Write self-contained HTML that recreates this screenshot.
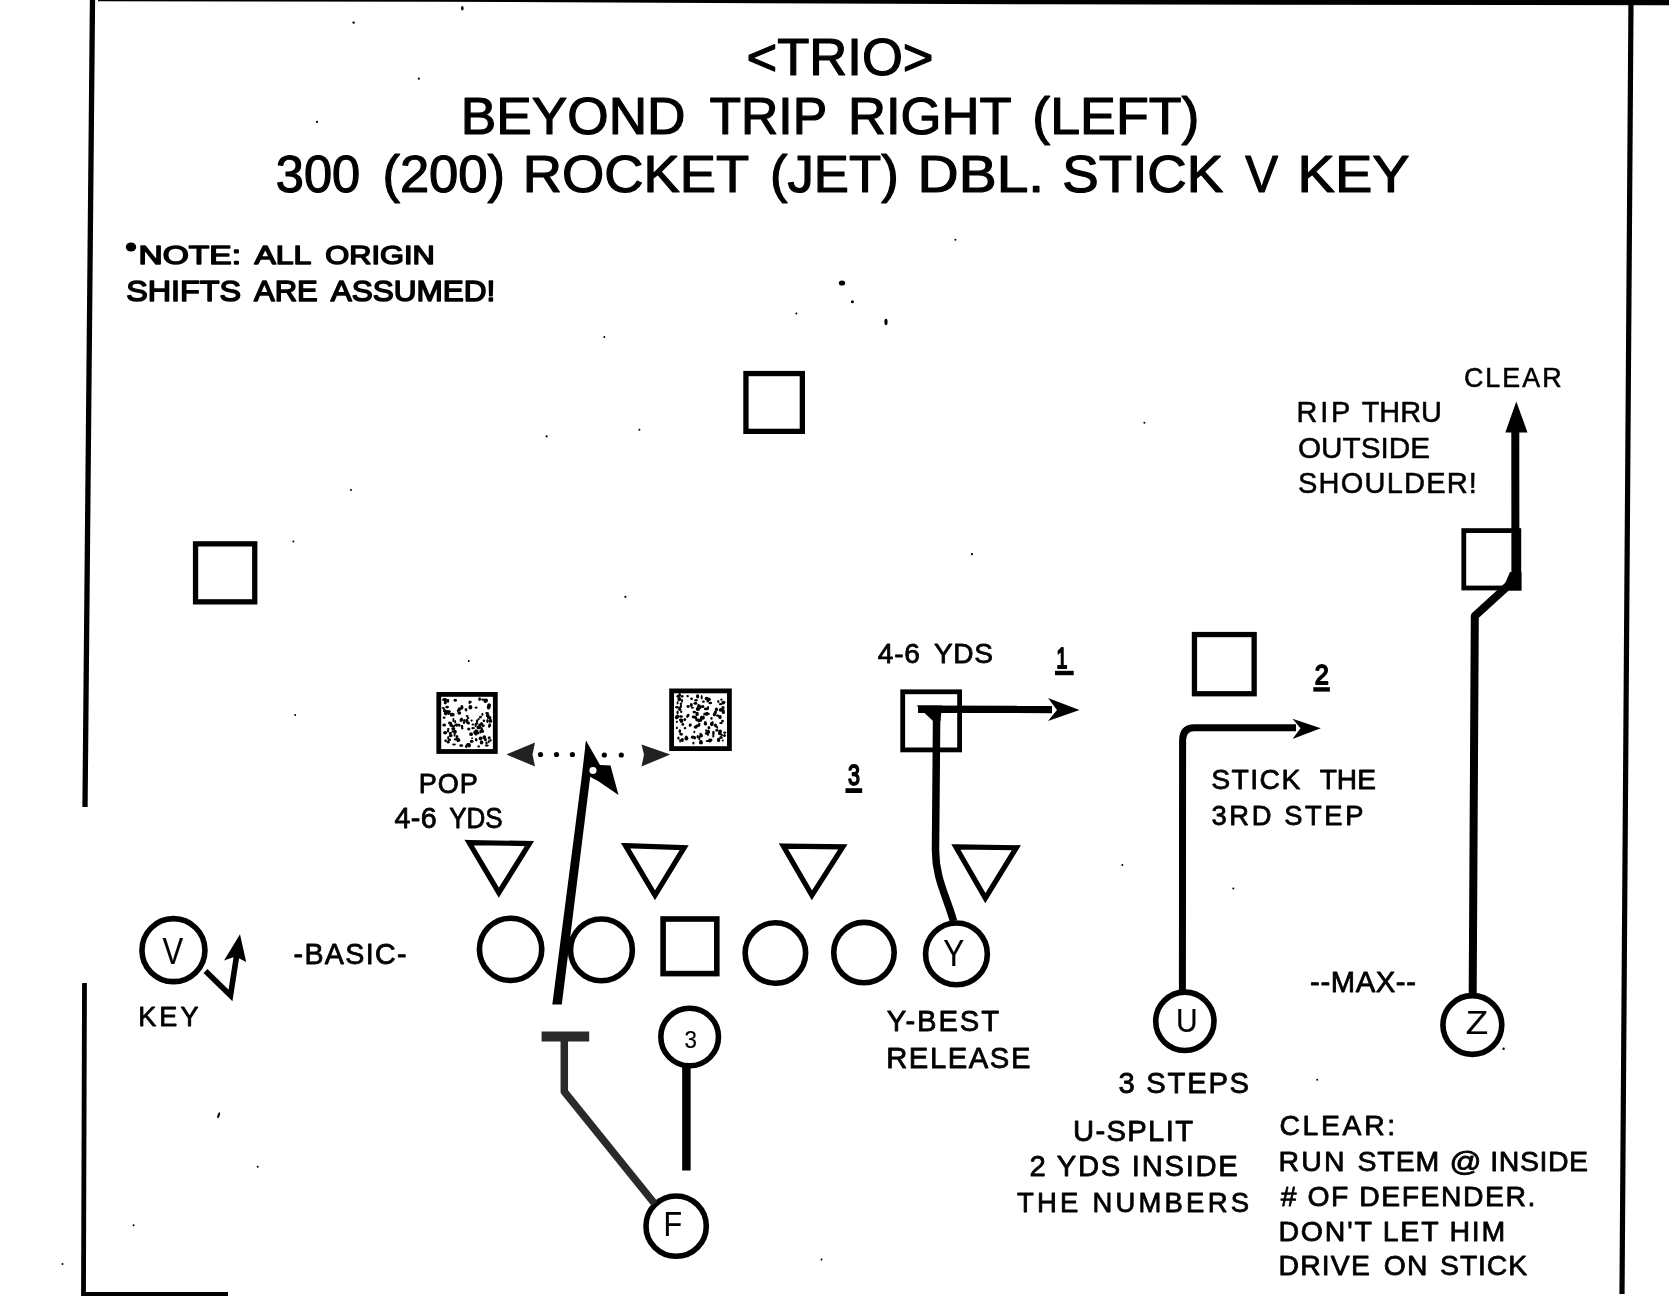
<!DOCTYPE html>
<html><head><meta charset="utf-8"><title>TRIO - Beyond Trip Right</title>
<style>
html,body{margin:0;padding:0;background:#fff;}
body{width:1669px;height:1296px;overflow:hidden;}
svg{display:block;filter:grayscale(100%);}
text{font-family:"Liberation Sans",sans-serif;fill:#000;stroke:#000;stroke-linejoin:round;}
</style></head>
<body>
<svg width="1669" height="1296" viewBox="0 0 1669 1296">
<rect x="0" y="0" width="1669" height="1296" fill="#fff"/>
<g fill="none" stroke="#000" stroke-linecap="butt">
<polygon points="98,0 1669,0 1669,5.2 1040,4.3 440,1.8 98,1.3" fill="#000" stroke="none"/>
<line x1="92.5" y1="-2" x2="85" y2="807" stroke-width="5.3"/>
<line x1="84.5" y1="983" x2="83.5" y2="1296" stroke-width="4.8"/>
<line x1="82" y1="1294" x2="228" y2="1294" stroke-width="4"/>
<line x1="1631" y1="0" x2="1622" y2="1294" stroke-width="5.2"/>
<rect x="745.95" y="373.55" width="56.40" height="57.80" stroke-width="5.3" fill="none"/>
<rect x="195.55" y="543.85" width="59.20" height="58.00" stroke-width="5.3" fill="none"/>
<rect x="1463.80" y="530.60" width="55.00" height="57.40" stroke-width="4.8" fill="none"/>
<rect x="1194.45" y="634.55" width="59.70" height="59.20" stroke-width="5.3" fill="none"/>
<rect x="902.70" y="691.80" width="56.90" height="58.10" stroke-width="4.8" fill="none"/>
<rect x="663.10" y="919.00" width="53.70" height="54.60" stroke-width="5.6" fill="none"/>
<rect x="438.80" y="694.40" width="56.50" height="57.10" stroke-width="4.8" fill="#fff"/>
<rect x="671.60" y="690.90" width="57.80" height="57.70" stroke-width="4.8" fill="#fff"/>
<polygon points="469.07,842.53 529.45,843.59 498.83,892.68" stroke-width="5.2" stroke-linejoin="miter"/>
<polygon points="625.54,845.69 684.14,847.66 654.99,895.28" stroke-width="5.2" stroke-linejoin="miter"/>
<polygon points="783.27,846.03 842.85,846.78 811.89,895.28" stroke-width="5.2" stroke-linejoin="miter"/>
<polygon points="955.85,846.96 1016.38,847.73 985.36,898.08" stroke-width="5.2" stroke-linejoin="miter"/>
<circle cx="510.60" cy="949.35" r="31.17" stroke-width="5.6"/>
<circle cx="601.45" cy="949.90" r="30.92" stroke-width="5.6"/>
<circle cx="775.40" cy="953.05" r="30.23" stroke-width="5.6"/>
<circle cx="863.95" cy="952.60" r="30.22" stroke-width="5.6"/>
<circle cx="956.45" cy="953.90" r="30.88" stroke-width="5.6"/>
<circle cx="173.45" cy="950.15" r="31.50" stroke-width="5.6"/>
<circle cx="689.65" cy="1037.00" r="28.82" stroke-width="5.6"/>
<circle cx="676.15" cy="1226.15" r="30.15" stroke-width="5.6"/>
<circle cx="1184.85" cy="1021.30" r="29.13" stroke-width="5.6"/>
<circle cx="1472.35" cy="1025.00" r="29.42" stroke-width="5.6"/>
</g>
<g fill="none" stroke="#000" stroke-linecap="butt">
<!-- Z route -->
<polyline points="1472.7,993 1474.8,616 1515.4,579 1515.3,430" stroke-width="8" stroke-linejoin="round"/>
<polygon points="1516.3,401.4 1527.5,432.5 1505.3,432.5" fill="#000" stroke="none"/>
<polygon points="1510,572 1521.5,572 1521.5,590.4 1502,590.4" fill="#000" stroke="none"/>
<!-- Y route -->
<path d="M953.5,921 C946,895 935.5,878 935.5,850 L936.6,719" stroke-width="7.5" stroke-linejoin="round"/>
<line x1="918" y1="709.2" x2="1052" y2="709.5" stroke-width="7.4"/>
<polygon points="916.5,705.4 942,705.4 940.5,721 933,721" fill="#000" stroke="none"/>
<polygon points="1079.5,710 1048,698 1057,710 1048,721" fill="#000" stroke="none"/>
<!-- U route -->
<path d="M1182.4,991 L1182.6,740 Q1183,727.8 1194,727.8 L1296,727.8" stroke-width="7" stroke-linejoin="round"/>
<polygon points="1320.8,728.3 1292.5,718.8 1300.5,728.3 1292.5,739" fill="#000" stroke="none"/>
<!-- F route to flag -->
<polygon points="552.3,1004.5 561.8,1004.5 590.3,776 586,740.5 581.8,776" fill="#000" stroke="none"/>
<polygon points="586,740.5 600,765 610.5,765.5 618.5,795 598,781 588.5,776 583.5,776" fill="#000" stroke="none"/>
<ellipse cx="593" cy="770.5" rx="3.6" ry="3.4" fill="#fff" stroke="none"/>
<!-- dotted pop arrow -->
<polygon points="506.4,754.5 535,742.5 532.5,754.5 535,766.5" fill="#222" stroke="none"/>
<polygon points="670.3,754.5 641.5,744.5 644,754.5 641.5,766.5" fill="#222" stroke="none"/>
<g fill="#000" stroke="none">
<circle cx="540.5" cy="754.5" r="2.6"/><circle cx="556.5" cy="754.5" r="2.6"/><circle cx="572.4" cy="754.5" r="2.6"/>
<circle cx="604.3" cy="755" r="2.6"/><circle cx="621.3" cy="755" r="2.6"/>
</g>
<!-- T block & F route -->
<rect x="541.6" y="1031.5" width="47.6" height="10" fill="#2a2a2a" stroke="none"/>
<polyline points="564.3,1041 564.3,1091.6 654.5,1203.5" stroke-width="7.5" stroke="#2a2a2a" stroke-linejoin="round"/>
<!-- 3 route -->
<line x1="686.4" y1="1067" x2="686.4" y2="1170.5" stroke-width="8.5"/>
<!-- V squiggle -->
<polyline points="205.5,971 230.5,995.5 237.2,952" stroke-width="5.6" stroke-linejoin="miter"/>
<polygon points="240,934.3 224,960.5 235.5,956.5 246.2,962" fill="#000" stroke="none"/>
<!-- underlines -->
<line x1="1055" y1="673" x2="1073.7" y2="673" stroke-width="4.4"/>
<line x1="1313.3" y1="689.4" x2="1329.9" y2="689.4" stroke-width="4.4"/>
<line x1="845.5" y1="790.6" x2="862.2" y2="790.6" stroke-width="4.8"/>
<!-- note bullet -->
<ellipse cx="131" cy="247" rx="5.2" ry="4.6" fill="#000" stroke="none"/>
<!-- specks -->
<g fill="#000" stroke="none">
<ellipse cx="842" cy="283" rx="3.2" ry="2.6"/>
<circle cx="852.4" cy="301.7" r="1.5"/>
<ellipse cx="886" cy="322" rx="1.6" ry="3.3"/>
<ellipse cx="462.3" cy="8.2" rx="1.3" ry="2.2"/>
<circle cx="353.6" cy="22.6" r="1.2"/>
<circle cx="418.8" cy="78.7" r="1.1"/>
<circle cx="317" cy="121.9" r="1.1"/>
<circle cx="604.3" cy="337" r="1"/>
<circle cx="796.4" cy="313.4" r="1"/>
<circle cx="639.4" cy="429.8" r="1"/>
<circle cx="546.6" cy="436.3" r="1.1"/>
<circle cx="351" cy="490" r="1"/>
<circle cx="293.4" cy="541.6" r="1"/>
<circle cx="625.4" cy="596.8" r="1.1"/>
<circle cx="955.4" cy="239.7" r="1"/>
<circle cx="1144.4" cy="422.8" r="1"/>
<circle cx="971.9" cy="554.2" r="1.1"/>
<circle cx="468.8" cy="661" r="1"/>
<circle cx="295.2" cy="715" r="1"/>
<ellipse cx="218.6" cy="1115.3" rx="1.1" ry="3.2" transform="rotate(20 218.6 1115.3)"/>
<circle cx="257.7" cy="1166.8" r="1"/>
<circle cx="133.6" cy="1225.3" r="1"/>
<circle cx="62.5" cy="1263.9" r="1"/>
<circle cx="821.5" cy="1259.4" r="1"/>
<circle cx="1122.3" cy="864.9" r="1"/>
<circle cx="1233.3" cy="888.4" r="1"/>
<circle cx="1317.2" cy="1079.7" r="1"/>
<circle cx="1503.6" cy="1048.8" r="1.2"/>

</g>
</g>
<g fill="#000" stroke="none"><ellipse cx="449.4" cy="739.7" rx="1.7" ry="1.3"/><ellipse cx="466.8" cy="720.6" rx="1.6" ry="1.9"/><ellipse cx="447.5" cy="700.4" rx="1.8" ry="1.5"/><ellipse cx="479.6" cy="699.1" rx="1.4" ry="1.9"/><ellipse cx="454.0" cy="744.4" rx="1.9" ry="1.0"/><ellipse cx="444.2" cy="725.0" rx="1.9" ry="1.5"/><ellipse cx="453.4" cy="719.3" rx="0.9" ry="1.3"/><ellipse cx="464.0" cy="722.8" rx="1.2" ry="1.3"/><ellipse cx="453.5" cy="721.1" rx="1.2" ry="1.0"/><ellipse cx="483.2" cy="725.7" rx="1.6" ry="1.2"/><ellipse cx="490.6" cy="740.3" rx="1.0" ry="1.4"/><ellipse cx="477.6" cy="733.1" rx="1.9" ry="1.5"/><ellipse cx="482.8" cy="731.2" rx="1.2" ry="1.7"/><ellipse cx="485.4" cy="739.6" rx="1.5" ry="1.7"/><ellipse cx="444.7" cy="710.7" rx="1.8" ry="1.5"/><ellipse cx="451.3" cy="725.3" rx="1.7" ry="1.8"/><ellipse cx="461.0" cy="720.1" rx="1.5" ry="1.9"/><ellipse cx="468.0" cy="717.9" rx="1.4" ry="1.0"/><ellipse cx="445.1" cy="732.8" rx="2.0" ry="1.7"/><ellipse cx="461.9" cy="707.2" rx="1.5" ry="2.2"/><ellipse cx="480.0" cy="724.9" rx="1.8" ry="1.3"/><ellipse cx="467.7" cy="744.7" rx="1.5" ry="1.6"/><ellipse cx="455.9" cy="725.3" rx="2.0" ry="1.0"/><ellipse cx="480.6" cy="738.4" rx="1.9" ry="1.9"/><ellipse cx="481.8" cy="723.9" rx="1.5" ry="1.5"/><ellipse cx="445.7" cy="740.8" rx="1.5" ry="1.2"/><ellipse cx="467.2" cy="722.3" rx="1.3" ry="1.4"/><ellipse cx="468.8" cy="728.9" rx="1.6" ry="1.5"/><ellipse cx="444.3" cy="710.0" rx="1.1" ry="1.7"/><ellipse cx="484.3" cy="737.3" rx="1.8" ry="2.0"/><ellipse cx="455.3" cy="739.4" rx="1.6" ry="1.1"/><ellipse cx="443.8" cy="699.7" rx="1.7" ry="1.3"/><ellipse cx="448.3" cy="729.0" rx="1.3" ry="1.1"/><ellipse cx="450.7" cy="724.3" rx="1.1" ry="1.3"/><ellipse cx="477.2" cy="720.8" rx="1.3" ry="1.6"/><ellipse cx="444.1" cy="717.6" rx="1.4" ry="1.2"/><ellipse cx="448.2" cy="742.2" rx="1.5" ry="1.3"/><ellipse cx="472.1" cy="738.2" rx="0.9" ry="1.0"/><ellipse cx="450.0" cy="733.5" rx="1.1" ry="1.8"/><ellipse cx="475.6" cy="725.1" rx="1.1" ry="2.2"/><ellipse cx="481.3" cy="723.8" rx="1.1" ry="1.8"/><ellipse cx="462.0" cy="726.6" rx="1.3" ry="1.8"/><ellipse cx="445.8" cy="713.3" rx="2.0" ry="2.1"/><ellipse cx="457.7" cy="740.2" rx="1.2" ry="2.1"/><ellipse cx="478.7" cy="719.0" rx="1.2" ry="1.0"/><ellipse cx="485.2" cy="700.8" rx="1.8" ry="2.2"/><ellipse cx="470.4" cy="707.2" rx="1.9" ry="2.2"/><ellipse cx="476.8" cy="723.4" rx="1.3" ry="1.4"/><ellipse cx="452.9" cy="731.4" rx="1.4" ry="1.2"/><ellipse cx="448.0" cy="731.0" rx="1.2" ry="1.6"/><ellipse cx="458.6" cy="740.8" rx="1.9" ry="1.0"/><ellipse cx="452.6" cy="714.7" rx="2.0" ry="1.9"/><ellipse cx="459.3" cy="709.2" rx="1.6" ry="2.0"/><ellipse cx="487.7" cy="715.5" rx="1.9" ry="1.8"/><ellipse cx="466.3" cy="746.3" rx="1.2" ry="1.9"/><ellipse cx="447.1" cy="707.1" rx="1.9" ry="1.3"/><ellipse cx="479.4" cy="727.8" rx="1.8" ry="1.4"/><ellipse cx="459.3" cy="713.0" rx="1.9" ry="1.7"/><ellipse cx="488.8" cy="741.6" rx="1.0" ry="1.7"/><ellipse cx="448.0" cy="700.9" rx="1.0" ry="2.0"/><ellipse cx="480.8" cy="738.8" rx="1.3" ry="1.7"/><ellipse cx="480.5" cy="717.1" rx="1.5" ry="1.3"/><ellipse cx="446.9" cy="711.8" rx="1.9" ry="1.7"/><ellipse cx="487.4" cy="721.0" rx="1.2" ry="1.9"/><ellipse cx="482.7" cy="699.6" rx="1.6" ry="1.1"/><ellipse cx="448.5" cy="741.5" rx="0.9" ry="1.3"/><ellipse cx="490.4" cy="719.2" rx="1.0" ry="1.2"/><ellipse cx="454.6" cy="734.7" rx="1.0" ry="2.1"/><ellipse cx="461.2" cy="745.6" rx="1.9" ry="1.4"/><ellipse cx="455.2" cy="721.9" rx="1.0" ry="1.8"/><ellipse cx="444.9" cy="699.5" rx="2.0" ry="1.4"/><ellipse cx="471.6" cy="720.6" rx="1.2" ry="1.1"/><ellipse cx="486.8" cy="745.6" rx="2.0" ry="1.1"/><ellipse cx="453.3" cy="728.7" rx="2.0" ry="1.7"/><ellipse cx="476.0" cy="730.8" rx="1.2" ry="1.6"/><ellipse cx="457.8" cy="710.8" rx="1.0" ry="1.3"/><ellipse cx="490.2" cy="720.5" rx="1.6" ry="1.8"/><ellipse cx="488.2" cy="717.7" rx="1.2" ry="1.4"/><ellipse cx="458.2" cy="739.7" rx="1.9" ry="1.4"/><ellipse cx="459.0" cy="725.1" rx="1.5" ry="1.7"/><ellipse cx="454.8" cy="700.0" rx="1.2" ry="1.1"/><ellipse cx="469.5" cy="702.4" rx="1.0" ry="1.8"/><ellipse cx="457.0" cy="737.0" rx="1.4" ry="2.0"/><ellipse cx="450.4" cy="723.1" rx="1.8" ry="1.1"/><ellipse cx="488.6" cy="707.3" rx="1.8" ry="2.2"/><ellipse cx="482.4" cy="714.3" rx="1.0" ry="1.6"/><ellipse cx="487.1" cy="713.1" rx="1.9" ry="1.2"/><ellipse cx="486.7" cy="700.5" rx="1.2" ry="2.1"/><ellipse cx="481.6" cy="742.5" rx="1.8" ry="1.9"/><ellipse cx="476.1" cy="707.6" rx="1.4" ry="1.2"/><ellipse cx="477.3" cy="731.1" rx="1.2" ry="1.1"/><ellipse cx="489.2" cy="737.8" rx="1.5" ry="1.6"/><ellipse cx="483.9" cy="720.8" rx="1.3" ry="1.4"/><ellipse cx="455.4" cy="700.2" rx="1.6" ry="1.5"/><ellipse cx="470.4" cy="702.0" rx="1.3" ry="1.2"/><ellipse cx="449.0" cy="711.4" rx="1.8" ry="1.5"/><ellipse cx="462.3" cy="728.4" rx="1.2" ry="1.0"/><ellipse cx="468.4" cy="723.0" rx="1.6" ry="1.5"/><ellipse cx="476.0" cy="734.1" rx="1.2" ry="1.6"/><ellipse cx="466.0" cy="709.8" rx="1.4" ry="1.7"/><ellipse cx="486.5" cy="743.0" rx="1.2" ry="1.8"/><ellipse cx="445.3" cy="702.4" rx="1.5" ry="2.1"/><ellipse cx="450.7" cy="735.8" rx="1.9" ry="1.4"/><ellipse cx="476.2" cy="739.8" rx="1.3" ry="1.8"/><ellipse cx="478.3" cy="727.5" rx="1.8" ry="2.1"/><ellipse cx="489.1" cy="726.4" rx="1.1" ry="1.3"/><ellipse cx="453.4" cy="726.3" rx="1.7" ry="1.1"/><ellipse cx="475.7" cy="733.4" rx="1.3" ry="1.6"/><ellipse cx="450.9" cy="734.0" rx="0.9" ry="2.2"/><ellipse cx="481.8" cy="729.2" rx="1.2" ry="2.1"/><ellipse cx="489.1" cy="705.7" rx="1.8" ry="2.0"/><ellipse cx="474.7" cy="732.6" rx="1.4" ry="2.1"/><ellipse cx="489.6" cy="717.4" rx="1.8" ry="1.5"/><ellipse cx="450.9" cy="714.6" rx="1.0" ry="2.1"/><ellipse cx="489.1" cy="704.7" rx="1.6" ry="1.5"/><ellipse cx="448.7" cy="713.2" rx="1.2" ry="1.9"/><ellipse cx="443.2" cy="708.1" rx="1.4" ry="1.0"/><ellipse cx="473.1" cy="728.1" rx="1.8" ry="1.2"/><ellipse cx="456.7" cy="725.0" rx="1.2" ry="1.7"/><ellipse cx="455.0" cy="731.8" rx="1.8" ry="2.0"/><ellipse cx="489.7" cy="725.2" rx="1.4" ry="2.0"/><ellipse cx="479.9" cy="726.4" rx="1.3" ry="1.3"/><ellipse cx="448.2" cy="737.8" rx="1.0" ry="1.9"/><ellipse cx="469.2" cy="745.3" rx="1.7" ry="2.2"/><ellipse cx="449.6" cy="723.0" rx="1.5" ry="1.4"/><ellipse cx="467.1" cy="716.1" rx="1.5" ry="1.0"/><ellipse cx="464.2" cy="720.6" rx="1.2" ry="1.5"/><ellipse cx="480.6" cy="731.8" rx="1.4" ry="1.8"/><ellipse cx="461.1" cy="708.8" rx="0.9" ry="1.3"/><ellipse cx="471.7" cy="741.3" rx="1.8" ry="1.6"/><ellipse cx="490.4" cy="721.2" rx="1.8" ry="1.5"/><ellipse cx="478.7" cy="746.4" rx="1.2" ry="1.2"/><ellipse cx="472.8" cy="724.5" rx="1.3" ry="1.0"/><ellipse cx="461.7" cy="719.4" rx="1.3" ry="2.0"/><ellipse cx="471.1" cy="734.2" rx="1.9" ry="1.9"/></g><g fill="#000" stroke="none"><ellipse cx="722.8" cy="740.5" rx="1.0" ry="1.1"/><ellipse cx="716.9" cy="730.3" rx="1.6" ry="1.4"/><ellipse cx="705.7" cy="724.1" rx="1.5" ry="1.2"/><ellipse cx="697.1" cy="713.9" rx="1.7" ry="2.2"/><ellipse cx="722.5" cy="721.1" rx="1.4" ry="1.3"/><ellipse cx="677.8" cy="696.3" rx="1.4" ry="1.4"/><ellipse cx="694.6" cy="737.8" rx="1.5" ry="1.7"/><ellipse cx="687.6" cy="696.1" rx="1.3" ry="1.2"/><ellipse cx="701.0" cy="742.9" rx="1.6" ry="1.2"/><ellipse cx="719.8" cy="733.2" rx="1.7" ry="2.1"/><ellipse cx="713.4" cy="732.9" rx="1.3" ry="2.2"/><ellipse cx="723.1" cy="702.7" rx="1.7" ry="1.9"/><ellipse cx="698.6" cy="720.5" rx="1.4" ry="2.1"/><ellipse cx="700.5" cy="734.9" rx="1.3" ry="2.1"/><ellipse cx="720.1" cy="717.1" rx="1.5" ry="2.1"/><ellipse cx="711.5" cy="718.4" rx="1.1" ry="1.4"/><ellipse cx="710.3" cy="703.0" rx="1.9" ry="1.3"/><ellipse cx="720.7" cy="709.9" rx="2.0" ry="1.8"/><ellipse cx="700.7" cy="719.9" rx="1.6" ry="1.7"/><ellipse cx="691.3" cy="705.0" rx="1.5" ry="2.1"/><ellipse cx="706.5" cy="698.6" rx="1.8" ry="1.9"/><ellipse cx="720.5" cy="704.2" rx="1.7" ry="1.1"/><ellipse cx="708.0" cy="708.1" rx="1.1" ry="2.1"/><ellipse cx="681.2" cy="720.1" rx="1.8" ry="1.3"/><ellipse cx="686.3" cy="737.3" rx="1.4" ry="1.9"/><ellipse cx="677.6" cy="712.4" rx="1.1" ry="1.8"/><ellipse cx="680.1" cy="740.8" rx="0.9" ry="1.9"/><ellipse cx="677.0" cy="707.3" rx="1.8" ry="1.2"/><ellipse cx="685.0" cy="728.2" rx="1.3" ry="1.1"/><ellipse cx="724.5" cy="702.3" rx="0.9" ry="1.4"/><ellipse cx="706.1" cy="730.6" rx="1.0" ry="1.4"/><ellipse cx="677.5" cy="716.5" rx="1.7" ry="1.9"/><ellipse cx="720.2" cy="731.3" rx="1.8" ry="1.8"/><ellipse cx="699.2" cy="705.8" rx="1.6" ry="1.4"/><ellipse cx="681.0" cy="716.5" rx="1.9" ry="1.2"/><ellipse cx="704.7" cy="713.9" rx="1.5" ry="1.2"/><ellipse cx="723.0" cy="707.4" rx="1.6" ry="1.5"/><ellipse cx="676.9" cy="721.8" rx="1.1" ry="1.1"/><ellipse cx="677.6" cy="702.7" rx="1.0" ry="1.8"/><ellipse cx="700.9" cy="742.2" rx="1.9" ry="2.2"/><ellipse cx="687.4" cy="716.3" rx="1.2" ry="1.7"/><ellipse cx="706.6" cy="733.4" rx="1.7" ry="1.3"/><ellipse cx="696.7" cy="720.3" rx="0.9" ry="1.0"/><ellipse cx="696.0" cy="700.3" rx="1.7" ry="1.3"/><ellipse cx="680.9" cy="703.7" rx="1.2" ry="1.3"/><ellipse cx="701.5" cy="717.3" rx="1.2" ry="1.8"/><ellipse cx="686.4" cy="738.5" rx="2.0" ry="1.9"/><ellipse cx="697.3" cy="719.6" rx="1.5" ry="1.1"/><ellipse cx="696.5" cy="720.2" rx="1.1" ry="1.1"/><ellipse cx="715.3" cy="712.6" rx="1.5" ry="2.1"/><ellipse cx="705.9" cy="708.9" rx="2.0" ry="1.4"/><ellipse cx="676.9" cy="727.9" rx="1.0" ry="1.4"/><ellipse cx="717.2" cy="727.3" rx="0.9" ry="1.5"/><ellipse cx="696.1" cy="718.3" rx="1.1" ry="1.7"/><ellipse cx="679.6" cy="708.6" rx="1.3" ry="2.1"/><ellipse cx="679.8" cy="731.2" rx="1.1" ry="1.7"/><ellipse cx="695.2" cy="717.2" rx="1.7" ry="1.5"/><ellipse cx="682.0" cy="700.8" rx="1.0" ry="2.0"/><ellipse cx="707.4" cy="741.1" rx="1.7" ry="1.0"/><ellipse cx="708.3" cy="732.3" rx="1.7" ry="1.6"/><ellipse cx="693.5" cy="716.9" rx="1.8" ry="1.3"/><ellipse cx="701.8" cy="717.9" rx="2.0" ry="2.0"/><ellipse cx="721.7" cy="735.1" rx="1.2" ry="1.3"/><ellipse cx="700.0" cy="707.5" rx="1.4" ry="1.8"/><ellipse cx="721.0" cy="723.1" rx="1.8" ry="1.1"/><ellipse cx="693.4" cy="742.9" rx="1.1" ry="1.5"/><ellipse cx="679.3" cy="699.1" rx="1.9" ry="2.2"/><ellipse cx="707.8" cy="701.2" rx="1.2" ry="1.3"/><ellipse cx="708.9" cy="727.7" rx="1.4" ry="1.6"/><ellipse cx="681.5" cy="721.0" rx="1.9" ry="1.9"/><ellipse cx="680.7" cy="719.8" rx="1.7" ry="1.3"/><ellipse cx="719.8" cy="717.1" rx="1.7" ry="1.5"/><ellipse cx="724.8" cy="732.6" rx="1.5" ry="1.2"/><ellipse cx="697.6" cy="696.4" rx="1.6" ry="2.1"/><ellipse cx="684.8" cy="719.5" rx="1.4" ry="1.5"/><ellipse cx="710.8" cy="740.0" rx="1.7" ry="1.6"/><ellipse cx="723.1" cy="710.9" rx="1.7" ry="1.8"/><ellipse cx="713.3" cy="735.9" rx="1.1" ry="1.7"/><ellipse cx="695.7" cy="727.0" rx="2.0" ry="1.8"/><ellipse cx="676.6" cy="717.3" rx="1.7" ry="2.1"/><ellipse cx="707.9" cy="734.2" rx="0.9" ry="2.1"/><ellipse cx="711.7" cy="724.1" rx="1.9" ry="2.1"/><ellipse cx="680.9" cy="734.1" rx="1.7" ry="1.2"/><ellipse cx="712.5" cy="723.1" rx="1.1" ry="2.0"/><ellipse cx="682.8" cy="724.4" rx="1.4" ry="1.3"/><ellipse cx="703.7" cy="717.4" rx="1.1" ry="2.2"/><ellipse cx="679.6" cy="695.1" rx="1.4" ry="2.0"/><ellipse cx="708.3" cy="731.2" rx="1.4" ry="1.8"/><ellipse cx="692.4" cy="707.8" rx="1.5" ry="1.0"/><ellipse cx="679.9" cy="731.2" rx="1.1" ry="1.9"/><ellipse cx="714.4" cy="714.4" rx="1.6" ry="1.9"/><ellipse cx="718.3" cy="701.5" rx="1.1" ry="1.5"/><ellipse cx="698.8" cy="709.2" rx="0.9" ry="1.7"/><ellipse cx="723.4" cy="712.6" rx="1.5" ry="1.5"/><ellipse cx="697.7" cy="736.8" rx="1.2" ry="1.8"/><ellipse cx="699.7" cy="720.9" rx="1.9" ry="1.1"/><ellipse cx="716.4" cy="709.6" rx="1.6" ry="2.0"/><ellipse cx="708.0" cy="713.9" rx="1.8" ry="1.1"/><ellipse cx="707.0" cy="713.8" rx="1.5" ry="2.0"/><ellipse cx="715.1" cy="725.2" rx="1.2" ry="1.3"/><ellipse cx="698.4" cy="706.1" rx="1.2" ry="2.1"/><ellipse cx="681.5" cy="734.3" rx="1.3" ry="1.4"/><ellipse cx="691.6" cy="698.7" rx="1.4" ry="1.2"/><ellipse cx="697.7" cy="709.0" rx="1.9" ry="2.1"/><ellipse cx="697.7" cy="725.7" rx="1.9" ry="1.4"/><ellipse cx="680.9" cy="706.4" rx="1.1" ry="1.8"/><ellipse cx="694.3" cy="712.1" rx="1.8" ry="1.3"/><ellipse cx="715.6" cy="725.4" rx="1.3" ry="2.0"/><ellipse cx="692.8" cy="737.2" rx="1.9" ry="1.6"/><ellipse cx="709.8" cy="740.5" rx="1.7" ry="1.9"/><ellipse cx="718.6" cy="739.9" rx="1.7" ry="2.2"/><ellipse cx="690.3" cy="724.9" rx="1.6" ry="1.4"/><ellipse cx="695.4" cy="703.4" rx="2.0" ry="1.4"/><ellipse cx="699.4" cy="737.9" rx="1.1" ry="2.2"/><ellipse cx="682.2" cy="696.3" rx="1.3" ry="1.4"/><ellipse cx="721.0" cy="737.4" rx="1.7" ry="1.5"/><ellipse cx="702.6" cy="706.4" rx="1.8" ry="1.5"/><ellipse cx="689.9" cy="725.6" rx="1.1" ry="1.4"/><ellipse cx="721.4" cy="699.6" rx="1.1" ry="1.2"/><ellipse cx="688.3" cy="715.2" rx="1.2" ry="1.4"/><ellipse cx="688.1" cy="706.5" rx="1.6" ry="1.4"/><ellipse cx="694.3" cy="731.9" rx="1.0" ry="1.2"/><ellipse cx="717.7" cy="715.6" rx="1.8" ry="1.2"/><ellipse cx="701.6" cy="735.6" rx="1.3" ry="1.9"/><ellipse cx="705.9" cy="713.9" rx="2.0" ry="1.5"/><ellipse cx="699.2" cy="724.7" rx="1.2" ry="2.0"/><ellipse cx="705.3" cy="723.2" rx="1.5" ry="2.2"/><ellipse cx="724.5" cy="735.4" rx="1.4" ry="1.5"/><ellipse cx="701.7" cy="697.2" rx="1.0" ry="2.2"/><ellipse cx="682.3" cy="740.0" rx="1.6" ry="2.1"/><ellipse cx="679.8" cy="709.7" rx="1.8" ry="1.0"/><ellipse cx="681.2" cy="711.8" rx="1.1" ry="1.2"/><ellipse cx="708.8" cy="699.4" rx="2.0" ry="1.8"/><ellipse cx="678.4" cy="738.1" rx="1.2" ry="1.6"/><ellipse cx="703.4" cy="701.7" rx="1.5" ry="1.1"/></g>
<g opacity="0.999">
<text x="746.5" y="75.4" font-size="51.75" textLength="187.1" lengthAdjust="spacingAndGlyphs" stroke-width="1.2">&lt;TRIO&gt;</text>
<text x="460.7" y="134.2" font-size="52.04" textLength="224.9" lengthAdjust="spacingAndGlyphs" stroke-width="1.2">BEYOND</text>
<text x="709.4" y="134.2" font-size="52.04" textLength="117.8" lengthAdjust="spacingAndGlyphs" stroke-width="1.2">TRIP</text>
<text x="847.9" y="134.2" font-size="52.04" textLength="163.7" lengthAdjust="spacingAndGlyphs" stroke-width="1.2">RIGHT</text>
<text x="1032.3" y="134.2" font-size="52.04" textLength="167.1" lengthAdjust="spacingAndGlyphs" stroke-width="1.2">(LEFT)</text>
<text x="275.8" y="191.7" font-size="51.75" textLength="84.3" lengthAdjust="spacingAndGlyphs" stroke-width="1.2">300</text>
<text x="382.4" y="191.7" font-size="51.75" textLength="122.7" lengthAdjust="spacingAndGlyphs" stroke-width="1.2">(200)</text>
<text x="522.8" y="191.7" font-size="51.75" textLength="226.5" lengthAdjust="spacingAndGlyphs" stroke-width="1.2">ROCKET</text>
<text x="770.0" y="191.7" font-size="51.75" textLength="128.7" lengthAdjust="spacingAndGlyphs" stroke-width="1.2">(JET)</text>
<text x="917.6" y="191.7" font-size="51.75" textLength="126.5" lengthAdjust="spacingAndGlyphs" stroke-width="1.2">DBL.</text>
<text x="1062.3" y="191.7" font-size="51.75" textLength="161.0" lengthAdjust="spacingAndGlyphs" stroke-width="1.2">STICK</text>
<text transform="translate(1245.28,191.70) scale(0.951,1)" font-size="51.75" stroke-width="1.2">V</text>
<text x="1297.6" y="191.7" font-size="51.75" textLength="112.1" lengthAdjust="spacingAndGlyphs" stroke-width="1.2">KEY</text>
<text x="138.6" y="264.1" font-size="25.73" textLength="102.4" lengthAdjust="spacingAndGlyphs" stroke-width="1.5">NOTE:</text>
<text x="254.5" y="264.1" font-size="25.73" textLength="56.9" lengthAdjust="spacingAndGlyphs" stroke-width="1.5">ALL</text>
<text x="325.2" y="264.1" font-size="25.73" textLength="109.6" lengthAdjust="spacingAndGlyphs" stroke-width="1.5">ORIGIN</text>
<text x="126.2" y="300.8" font-size="29.07" textLength="115.0" lengthAdjust="spacingAndGlyphs" stroke-width="1.5">SHIFTS</text>
<text x="254.0" y="300.8" font-size="29.07" textLength="63.8" lengthAdjust="spacingAndGlyphs" stroke-width="1.5">ARE</text>
<text x="330.7" y="300.8" font-size="29.07" textLength="164.7" lengthAdjust="spacingAndGlyphs" stroke-width="1.5">ASSUMED!</text>
<text x="1463.9" y="386.7" font-size="26.82" textLength="97.8" lengthAdjust="spacing" stroke-width="0.55">CLEAR</text>
<text x="1296.6" y="421.5" font-size="28.85" textLength="53.6" lengthAdjust="spacing" stroke-width="0.55">RIP</text>
<text x="1361.7" y="421.5" font-size="28.85" textLength="80.1" lengthAdjust="spacingAndGlyphs" stroke-width="0.55">THRU</text>
<text x="1297.9" y="458.0" font-size="29.72" textLength="132.1" lengthAdjust="spacing" stroke-width="0.55">OUTSIDE</text>
<text x="1298.0" y="493.2" font-size="29.00" textLength="178.9" lengthAdjust="spacing" stroke-width="0.55">SHOULDER!</text>
<text x="877.7" y="663.2" font-size="28.05" textLength="42.2" lengthAdjust="spacing" stroke-width="0.8">4-6</text>
<text x="933.9" y="663.2" font-size="28.05" textLength="59.0" lengthAdjust="spacing" stroke-width="0.8">YDS</text>
<text x="418.7" y="792.8" font-size="27.04" textLength="59.1" lengthAdjust="spacing" stroke-width="0.8">POP</text>
<text x="394.5" y="828.1" font-size="28.63" textLength="42.1" lengthAdjust="spacing" stroke-width="0.8">4-6</text>
<text x="449.2" y="828.1" font-size="28.63" textLength="53.5" lengthAdjust="spacingAndGlyphs" stroke-width="0.8">YDS</text>
<text x="1211.2" y="789.3" font-size="28.34" textLength="89.1" lengthAdjust="spacing" stroke-width="0.8">STICK</text>
<text x="1319.7" y="789.3" font-size="28.34" textLength="56.2" lengthAdjust="spacingAndGlyphs" stroke-width="0.8">THE</text>
<text x="1211.5" y="825.0" font-size="27.33" textLength="151.9" lengthAdjust="spacing" stroke-width="0.8">3RD STEP</text>
<text x="293.5" y="964.3" font-size="28.63" textLength="113.0" lengthAdjust="spacing" stroke-width="0.8">-BASIC-</text>
<text x="138.2" y="1025.9" font-size="27.04" textLength="60.3" lengthAdjust="spacing" stroke-width="0.8">KEY</text>
<text x="1310.1" y="992.0" font-size="29.22" textLength="105.8" lengthAdjust="spacing" stroke-width="0.8">--MAX--</text>
<text x="886.8" y="1031.4" font-size="29.22" textLength="112.3" lengthAdjust="spacing" stroke-width="0.8">Y-BEST</text>
<text x="886.2" y="1068.2" font-size="29.22" textLength="144.2" lengthAdjust="spacing" stroke-width="0.8">RELEASE</text>
<text x="1118.5" y="1092.8" font-size="29.22" textLength="130.6" lengthAdjust="spacing" stroke-width="0.8">3 STEPS</text>
<text x="1073.0" y="1140.7" font-size="29.22" textLength="120.0" lengthAdjust="spacing" stroke-width="0.8">U-SPLIT</text>
<text x="1029.6" y="1176.3" font-size="29.22" textLength="208.2" lengthAdjust="spacing" stroke-width="0.8">2 YDS INSIDE</text>
<text x="1017.0" y="1211.9" font-size="27.47" textLength="232.0" lengthAdjust="spacing" stroke-width="0.8">THE NUMBERS</text>
<text x="1279.4" y="1135.1" font-size="28.34" textLength="115.8" lengthAdjust="spacing" stroke-width="0.8">CLEAR:</text>
<text x="1278.5" y="1171.1" font-size="28.49" textLength="66.2" lengthAdjust="spacing" stroke-width="0.8">RUN</text>
<text x="1357.4" y="1171.1" font-size="28.49" textLength="81.9" lengthAdjust="spacing" stroke-width="0.8">STEM</text>
<text transform="translate(1449.62,1171.10) scale(1.107,1)" font-size="28.49" stroke-width="0.8">@</text>
<text x="1490.3" y="1171.1" font-size="28.49" textLength="97.7" lengthAdjust="spacing" stroke-width="0.8">INSIDE</text>
<text x="1280.7" y="1205.8" font-size="28.34" textLength="254.7" lengthAdjust="spacing" stroke-width="0.8"># OF DEFENDER.</text>
<text x="1278.5" y="1240.6" font-size="28.49" textLength="226.8" lengthAdjust="spacing" stroke-width="0.8">DON'T LET HIM</text>
<text x="1278.5" y="1275.3" font-size="28.34" textLength="91.3" lengthAdjust="spacing" stroke-width="0.8">DRIVE</text>
<text x="1383.7" y="1275.3" font-size="28.34" textLength="43.7" lengthAdjust="spacing" stroke-width="0.8">ON</text>
<text x="1440.1" y="1275.3" font-size="28.34" textLength="87.0" lengthAdjust="spacing" stroke-width="0.8">STICK</text>
<text transform="translate(1056.36,667.50) scale(0.671,1)" font-size="30.09" stroke-width="1.8">1</text>
<text transform="translate(1314.73,683.70) scale(0.905,1)" font-size="27.91" stroke-width="1.8">2</text>
<text transform="translate(848.08,785.30) scale(0.736,1)" font-size="29.22" stroke-width="1.8">3</text>
<text transform="translate(162.56,963.60) scale(0.826,1)" font-size="37.50" stroke-width="0.2">V</text>
<text transform="translate(943.31,965.50) scale(0.836,1)" font-size="37.65" stroke-width="0.2">Y</text>
<text transform="translate(1465.64,1033.50) scale(1.097,1)" font-size="33.43" stroke-width="0.2">Z</text>
<text transform="translate(1175.89,1031.70) scale(0.888,1)" font-size="33.72" stroke-width="0.2">U</text>
<text transform="translate(663.50,1236.30) scale(0.889,1)" font-size="34.30" stroke-width="0.2">F</text>
<text transform="translate(684.55,1048.30) scale(0.949,1)" font-size="23.55" stroke-width="0.2">3</text>
</g>
</svg>
</body></html>
